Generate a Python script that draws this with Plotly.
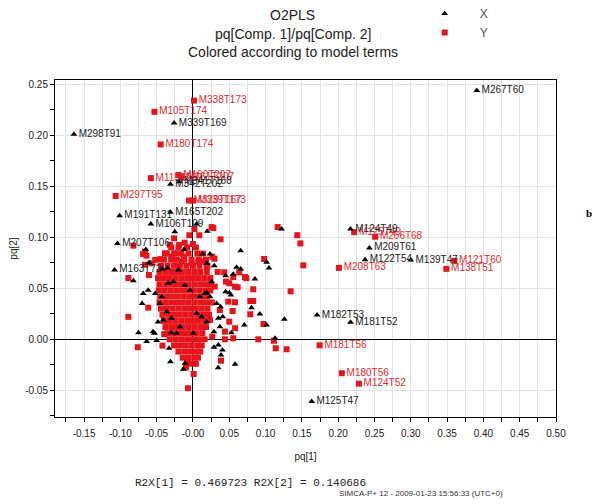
import plotly.graph_objects as go

# ---------------- DATA ----------------
# Y terms (red squares): labelled points first
y_label_x = [0.0014, -0.053, -0.0445, -0.058, -0.020, -0.0156, -0.1065, -0.0055, 0.0005,
             0.222, 0.251, 0.360, 0.349, 0.201, 0.1745, 0.205, 0.2285]
y_label_y = [0.234, 0.223, 0.191, 0.158, 0.161, 0.159, 0.1405, 0.136, 0.136,
             0.105, 0.1006, 0.0768, 0.069, 0.070, -0.0059, -0.0333, -0.0435]
y_label_txt = ["M338T173", "M105T174", "M180T174", "M115T207", "M160T207", "M161T207", "M297T95",
               "M329T167", "M339T173", "M125T49", "M266T68", "M121T60", "M138T51", "M208T63",
               "M181T56", "M180T56", "M124T52"]

# Y terms, unlabelled scattered points
y_other_x = [0.1166, 0.1437, 0.148, 0.152, 0.1345, 0.129, 0.028, 0.0257, 0.038, 0.0266, 0.098,
             0.0638, 0.043, 0.0735, 0.0455, 0.050, 0.030, 0.0579, 0.0615, 0.083, 0.0487, 0.0579,
             0.079, 0.083, 0.037, 0.0547, 0.079, 0.0234, 0.097, 0.050, 0.058, 0.044, 0.0266,
             0.0555, 0.090, 0.1115, 0.114, 0.044, 0.0386, -0.0395, -0.076, -0.042, -0.0078,
             -0.0096, 0.001, -0.0069, -0.089, -0.0616, -0.089, -0.066, -0.057, -0.0606, -0.005,
             0.002, 0.0087, -0.026, -0.019, -0.0317, 0.0, -0.0115, -0.082, -0.066, -0.0687,
             -0.064, -0.052, -0.0386, -0.045, -0.0296, -0.023, -0.0124, -0.0156, -0.0018, 0.0073,
             0.0188, 0.0124, 0.0555, 0.0716, 0.034, 0.0296]
y_other_y = [0.110, 0.102, 0.094, 0.0725, 0.047, -0.0098, 0.109, 0.110, 0.098, 0.081, 0.0787,
             0.0657, 0.0657, 0.060, 0.0565, 0.055, 0.0516, 0.0516, 0.051, 0.049, 0.0369, 0.0363,
             0.0375, 0.0375, 0.0287, 0.0277, 0.0245, 0.0189, 0.015, 0.0173, 0.0108, 0.0075, 0.0025,
             0.001, 0.000, -0.0014, -0.0088, 0.000, -0.021, 0.005, -0.0078, -0.0062, -0.0196,
             -0.0275, -0.034, -0.048, 0.022, 0.031, 0.060, 0.073, 0.0745, 0.063, 0.102,
             0.108, 0.102, 0.099, 0.0925, 0.0925, 0.0934, 0.0947, 0.0918, 0.086, 0.0836,
             0.082, 0.0777, 0.0843, 0.0786, 0.081, 0.0843, 0.081, 0.0762, 0.075, 0.0762,
             0.0713, 0.0762, 0.061, 0.061, 0.066, 0.079]

# Y terms, dense central cloud (rows)
y_cloud_x = [
    -0.030, -0.020, -0.008, 0.004,
    -0.036, -0.026, -0.016, -0.006, 0.006, 0.014,
    -0.040, -0.030, -0.022, -0.012, -0.002, 0.008, 0.018,
    -0.044, -0.035, -0.026, -0.018, -0.009, 0.000, 0.009, 0.020,
    -0.046, -0.038, -0.030, -0.022, -0.014, -0.006, 0.002, 0.010, 0.019,
    -0.048, -0.040, -0.032, -0.024, -0.016, -0.008, 0.000, 0.008, 0.016, 0.024,
    -0.046, -0.038, -0.030, -0.022, -0.014, -0.006, 0.002, 0.010, 0.018, 0.025,
    -0.047, -0.039, -0.031, -0.023, -0.015, -0.007, 0.001, 0.009, 0.017, 0.024,
    -0.045, -0.037, -0.029, -0.021, -0.013, -0.005, 0.003, 0.011, 0.019,
    -0.046, -0.038, -0.030, -0.022, -0.014, -0.006, 0.002, 0.010, 0.018, 0.026,
    -0.044, -0.036, -0.028, -0.020, -0.012, -0.004, 0.004, 0.012, 0.020,
    -0.042, -0.034, -0.026, -0.018, -0.010, -0.002, 0.006, 0.014, 0.022,
    -0.040, -0.032, -0.024, -0.016, -0.008, 0.000, 0.008, 0.016,
    -0.038, -0.030, -0.022, -0.014, -0.006, 0.002, 0.010, 0.018,
    -0.035, -0.027, -0.019, -0.011, -0.003, 0.005, 0.013,
    -0.032, -0.024, -0.016, -0.008, 0.000, 0.008, 0.016,
    -0.026, -0.018, -0.010, -0.002, 0.006, 0.012,
    -0.020, -0.012, -0.004, 0.004, 0.010,
    -0.014, -0.006, 0.002, 0.007,
    -0.008, 0.000, 0.004]
y_cloud_y = [
    0.090, 0.090, 0.090, 0.090,
    0.084, 0.084, 0.084, 0.084, 0.084, 0.084,
    0.078, 0.078, 0.078, 0.078, 0.078, 0.078, 0.078,
    0.072, 0.072, 0.072, 0.072, 0.072, 0.072, 0.072, 0.072,
    0.066, 0.066, 0.066, 0.066, 0.066, 0.066, 0.066, 0.066, 0.066,
    0.060, 0.060, 0.060, 0.060, 0.060, 0.060, 0.060, 0.060, 0.060, 0.060,
    0.054, 0.054, 0.054, 0.054, 0.054, 0.054, 0.054, 0.054, 0.054, 0.054,
    0.048, 0.048, 0.048, 0.048, 0.048, 0.048, 0.048, 0.048, 0.048, 0.048,
    0.042, 0.042, 0.042, 0.042, 0.042, 0.042, 0.042, 0.042, 0.042,
    0.036, 0.036, 0.036, 0.036, 0.036, 0.036, 0.036, 0.036, 0.036, 0.036,
    0.030, 0.030, 0.030, 0.030, 0.030, 0.030, 0.030, 0.030, 0.030,
    0.024, 0.024, 0.024, 0.024, 0.024, 0.024, 0.024, 0.024, 0.024,
    0.018, 0.018, 0.018, 0.018, 0.018, 0.018, 0.018, 0.018,
    0.012, 0.012, 0.012, 0.012, 0.012, 0.012, 0.012, 0.012,
    0.006, 0.006, 0.006, 0.006, 0.006, 0.006, 0.006,
    0.000, 0.000, 0.000, 0.000, 0.000, 0.000, 0.000,
    -0.006, -0.006, -0.006, -0.006, -0.006, -0.006,
    -0.012, -0.012, -0.012, -0.012, -0.012,
    -0.018, -0.018, -0.018, -0.018,
    -0.024, -0.024, -0.024]

# X terms (black triangles): labelled points first
x_label_x = [-0.164, -0.026, 0.391, -0.031, -0.019, -0.031, -0.058, -0.101, -0.104, -0.108,
             0.217, 0.243, 0.237, 0.300, 0.171, 0.217, 0.1635]
x_label_y = [0.201, 0.212, 0.244, 0.152, 0.1545, 0.1245, 0.113, 0.121, 0.094, 0.068,
             0.108, 0.0895, 0.078, 0.0777, 0.0238, 0.0167, -0.061]
x_label_txt = ["M298T91", "M339T169", "M267T60", "M342T202", "M341T168", "M165T202", "M106T109",
               "M191T131", "M207T106", "M163T72", "M124T49", "M209T61", "M122T54", "M139T47",
               "M182T53", "M181T52", "M125T47"]

# X terms, unlabelled points
x_other_x = [0.122, 0.0197, 0.0657, 0.1015, 0.1047, 0.0294, 0.060, 0.0657, 0.0555, 0.045,
             0.0854, 0.0257, 0.019, 0.045, 0.050, 0.0523, 0.0234, 0.0808, 0.0326, 0.038,
             0.092, 0.041, 0.035, 0.1258, 0.1015, 0.0707, 0.037, 0.0289, 0.053, 0.113,
             0.035, 0.029, 0.0406, 0.0386, 0.058, 0.0348, -0.075, -0.053, -0.030, -0.0638,
             -0.050, -0.033, -0.031, -0.011, -0.0134, -0.070, -0.0616, -0.082, -0.0606, -0.065,
             -0.0124, 0.005, -0.025, 0.0133, 0.0234,
             -0.052, -0.043, -0.0455, -0.036, -0.0296, -0.018, -0.041, -0.048, -0.034, -0.027,
             -0.020, -0.011, -0.004, 0.005, 0.012, 0.019, 0.0005, 0.0096, 0.0165, -0.0225,
             -0.055, -0.035, -0.042, 0.019, -0.0685]
x_other_y = [0.108, 0.106, 0.0869, 0.0755, 0.070, 0.072, 0.0705, 0.069, 0.0637, 0.0624,
             0.059, 0.0565, 0.0457, 0.0467, 0.0457, 0.0434, 0.0418, 0.031, 0.035, 0.032,
             0.0248, 0.022, 0.0206, 0.0196, 0.014, 0.014, 0.0124, 0.0075, 0.0065, 0.001,
             -0.0056, -0.0078, -0.0105, -0.0154, -0.0245, -0.0278, 0.0065, 0.0059, 0.0065, -0.0023,
             -0.0013, -0.0088, -0.022, -0.0235, -0.0294, 0.035, 0.048, 0.0575, 0.075, 0.088,
             0.088, 0.113, 0.1055, 0.0836, 0.0836,
             0.045, 0.0418, 0.035, 0.027, 0.0206, 0.0124, 0.019, 0.017, 0.055, 0.0565,
             0.068, 0.053, 0.048, 0.0255, 0.022, 0.017, 0.006, 0.042, 0.045, 0.006,
             0.0075, 0.070, 0.069, 0.0745, 0.045]

x_major_ticks = [-0.15, -0.10, -0.05, 0.0, 0.05, 0.10, 0.15, 0.20, 0.25, 0.30, 0.35, 0.40, 0.45, 0.50]
x_major_text = ["-0.15", "-0.10", "-0.05", "-0.00", "0.05", "0.10", "0.15", "0.20", "0.25",
                "0.30", "0.35", "0.40", "0.45", "0.50"]
x_minor_ticks = [-0.175, -0.125, -0.075, -0.025, 0.025, 0.075, 0.125, 0.175, 0.225, 0.275,
                 0.325, 0.375, 0.425, 0.475]
y_major_ticks = [-0.05, 0.0, 0.05, 0.10, 0.15, 0.20, 0.25]
y_major_text = ["-0.05", "0.00", "0.05", "0.10", "0.15", "0.20", "0.25"]
y_minor_ticks = [-0.075, -0.025, 0.025, 0.075, 0.125, 0.175, 0.225]

# ---------------- FIGURE ----------------
RED = "#e8141b"
RED_TXT = "#e52a30"
BLK = "#000000"
FONT = "Liberation Sans, Arial, sans-serif"

ys_x = y_cloud_x + y_other_x + y_label_x
ys_y = y_cloud_y + y_other_y + y_label_y
ys_t = [""] * (len(y_cloud_x) + len(y_other_x)) + y_label_txt

xs_x = x_other_x + x_label_x
xs_y = x_other_y + x_label_y
xs_t = [""] * len(x_other_x) + x_label_txt

fig = go.Figure()
fig.add_trace(go.Scatter(
    x=ys_x, y=ys_y, text=ys_t, mode="markers+text", name="Y", legendrank=2,
    textposition="middle right", textfont=dict(family=FONT, size=10, color=RED_TXT),
    marker=dict(symbol="square", size=6, color=RED, line=dict(width=0)),
    cliponaxis=False, hoverinfo="x+y+text"))
fig.add_trace(go.Scatter(
    x=xs_x, y=xs_y, text=xs_t, mode="markers+text", name="X", legendrank=1,
    textposition="middle right", textfont=dict(family=FONT, size=10, color="#222222"),
    marker=dict(symbol="triangle-up", size=6, color=BLK, line=dict(width=0)),
    cliponaxis=False, hoverinfo="x+y+text"))

axis_common = dict(
    showline=True, linecolor="#000000", linewidth=1, mirror=True,
    ticks="outside", ticklen=4, tickcolor="#000000",
    showgrid=True, gridcolor="#e3e3e3", gridwidth=1,
    zeroline=True, zerolinecolor="#000000", zerolinewidth=1,
    tickfont=dict(family=FONT, size=10, color="#222222"),
    automargin=False,
)

# page body has an 8px margin, so the figure is shrunk and everything is offset by it
fig.update_layout(
    width=592, height=496,
    margin=dict(l=47, r=44, t=72, b=87, autoexpand=False),
    paper_bgcolor="white", plot_bgcolor="white",
    font=dict(family=FONT, color="#222222"),
    showlegend=True,
    legend=dict(x=0.708, y=1.24, xanchor="left", yanchor="top",
                font=dict(family=FONT, size=12, color="#555555"),
                bgcolor="rgba(0,0,0,0)", itemwidth=60, tracegroupgap=0),
    xaxis=dict(range=[-0.19, 0.5], tickvals=x_major_ticks, ticktext=x_major_text,
               ticklabelstandoff=3,
               minor=dict(tickvals=x_minor_ticks, ticks="outside", ticklen=4,
                          tickcolor="#000000", showgrid=True, gridcolor="#e3e3e3"),
               title=dict(text="pq[1]", font=dict(family=FONT, size=10, color="#222222"), standoff=14),
               **axis_common),
    yaxis=dict(range=[-0.0762, 0.2542], tickvals=y_major_ticks, ticktext=y_major_text,
               minor=dict(tickvals=y_minor_ticks, ticks="outside", ticklen=4,
                          tickcolor="#000000", showgrid=False),
               title=dict(text="pq[2]", font=dict(family=FONT, size=10, color="#222222"), standoff=8),
               **axis_common),
)

title_lines = ["O2PLS", "pq[Comp. 1]/pq[Comp. 2]", "Colored according to model terms"]
title_y = [1.193, 1.136, 1.083]
for t, yy in zip(title_lines, title_y):
    fig.add_annotation(text=t, x=0.475, y=yy, xref="paper", yref="paper", showarrow=False,
                       xanchor="center", yanchor="middle",
                       font=dict(family=FONT, size=14, color="#222222"))

fig.add_annotation(text="R2X[1] = 0.469723 R2X[2] = 0.140686", x=0.391, y=-0.196,
                   xref="paper", yref="paper", showarrow=False, xanchor="center", yanchor="middle",
                   font=dict(family="Liberation Mono, Courier New, monospace", size=11, color="#222222"))
fig.add_annotation(text="SIMCA-P+ 12 - 2009-01-23 15:56:33 (UTC+0)", x=0.563, y=-0.226,
                   xref="paper", yref="paper", showarrow=False, xanchor="left", yanchor="middle",
                   bgcolor="white", font=dict(family=FONT, size=8, color="#333333"))
fig.add_annotation(text="<b>b</b>", x=1.058, y=0.605, xref="paper", yref="paper", showarrow=False,
                   xanchor="left", yanchor="middle", borderpad=0,
                   font=dict(family="Liberation Serif, Times New Roman, serif", size=11, color="#000000"))

fig.write_html("out.html")
